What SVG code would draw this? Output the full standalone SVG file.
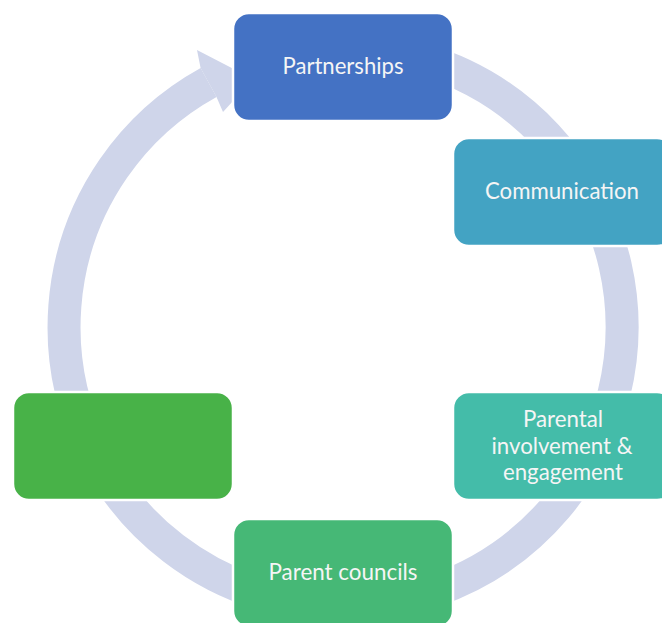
<svg xmlns="http://www.w3.org/2000/svg" width="662" height="623" viewBox="0 0 662 623">
  <style>
    .ring { fill: none; stroke: #CFD5EA; stroke-width: 33; }
    .head { fill: #CFD5EA; }
    .box { stroke: #FFFFFF; stroke-width: 2.5; }
    .lbl { font-family: Lato, "Open Sans", sans-serif; font-size: 23px; fill: #F5F5F5; text-anchor: middle; }
  </style>
  <rect width="662" height="623" fill="#FFFFFF"/>
  <g id="connectors">
    <path class="ring" d="M 294.6 52.2 A 279 279 0 1 1 208.6 82.5"/>
    <polygon class="head" points="200.6,68 197,50 253,79 223,112 216.5,97"/>
  </g>
  <g id="partnerships">
    <rect class="box" x="233" y="13" width="220" height="108" rx="16" fill="#4472C4"/>
    <text class="lbl" x="343" y="74" textLength="121" lengthAdjust="spacingAndGlyphs">Partnerships</text>
  </g>
  <g id="communication">
    <rect class="box" x="453" y="138" width="220" height="108" rx="16" fill="#43A3C3"/>
    <text class="lbl" x="562" y="199" textLength="154" lengthAdjust="spacingAndGlyphs">Communication</text>
  </g>
  <g id="parental-involvement">
    <rect class="box" x="453" y="392" width="220" height="108" rx="16" fill="#44BCA9"/>
    <text class="lbl" x="563" y="427" textLength="80" lengthAdjust="spacingAndGlyphs">Parental</text>
    <text class="lbl" x="562" y="454" textLength="141" lengthAdjust="spacingAndGlyphs">involvement &amp;</text>
    <text class="lbl" x="563" y="480" textLength="120" lengthAdjust="spacingAndGlyphs">engagement</text>
  </g>
  <g id="parent-councils">
    <rect class="box" x="233" y="519" width="220" height="108" rx="16" fill="#46B876"/>
    <text class="lbl" x="343" y="580" textLength="149" lengthAdjust="spacingAndGlyphs">Parent councils</text>
  </g>
  <g id="blank-node">
    <rect class="box" x="13" y="392" width="220" height="108" rx="16" fill="#48B248"/>
  </g>
</svg>
